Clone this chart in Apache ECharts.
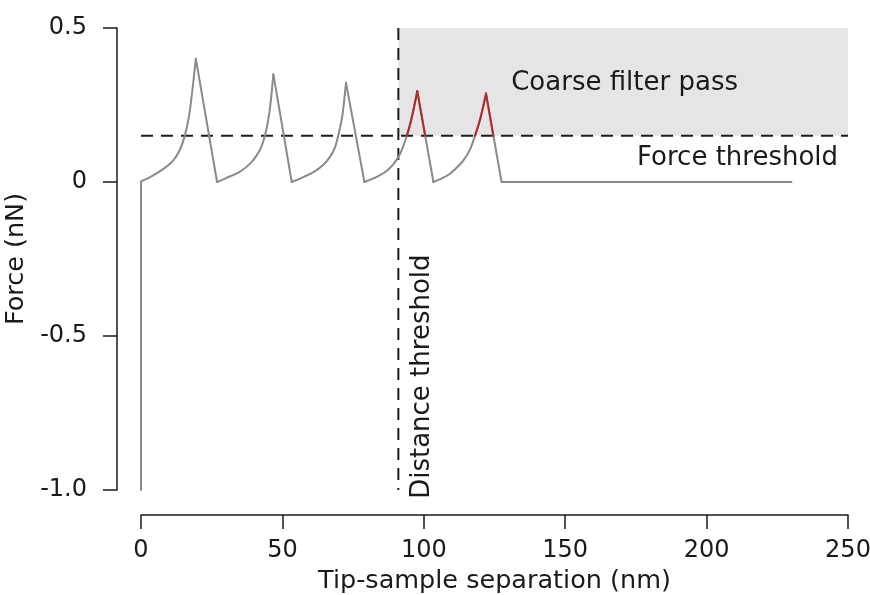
<!DOCTYPE html>
<html>
<head>
<meta charset="utf-8">
<script src="https://cdn.jsdelivr.net/npm/echarts@6/dist/echarts.min.js"></script>
<style>html,body{margin:0;padding:0;background:#fff}#c{width:870px;height:595px}</style>
</head>
<body>
<div id="c"></div>
<script>
// ---- data ----
var separationNm = [0, 0, 0.4, 2.9, 7.7, 11.2, 13.5, 15.3, 16.9, 18.0, 18.8, 19.4,
  26.9, 29.9, 34.9, 38.4, 40.8, 42.6, 44.2, 45.4, 46.2, 46.8,
  53.3, 56.2, 61, 64.4, 66.7, 68.5, 70, 71.2, 71.9, 72.5,
  79, 81.8, 86, 89.2, 91.8, 94, 95.5, 96.7, 97.7,
  103.4, 106, 109, 111.6, 114, 116.3, 118.1, 119.8, 121, 122,
  127.5, 230];
var forceNn = [-1.0, 0, 0.004, 0.014, 0.041, 0.068, 0.10, 0.144, 0.209, 0.285, 0.35, 0.40,
  0, 0.012, 0.033, 0.058, 0.085, 0.115, 0.165, 0.225, 0.29, 0.35,
  0, 0.011, 0.032, 0.055, 0.08, 0.11, 0.16, 0.215, 0.27, 0.322,
  0, 0.01, 0.03, 0.057, 0.095, 0.15, 0.2, 0.25, 0.295,
  0, 0.01, 0.025, 0.046, 0.07, 0.105, 0.15, 0.2, 0.245, 0.287,
  0, 0];
var passPeak1X = [94, 95.5, 96.7, 97.7, 100.5];
var passPeak1Y = [0.15, 0.2, 0.25, 0.295, 0.15];
var passPeak2X = [118.1, 119.8, 121, 122, 124.6];
var passPeak2Y = [0.15, 0.2, 0.245, 0.287, 0.15];
var forceThreshold = 0.15;
var distanceThreshold = 91;
var xTicks = [0, 50, 100, 150, 200, 250];
var yTickLabels = {'0.5': '0.5', '0': '0', '-0.5': '-0.5', '-1': '-1.0'};
var xRange = [0, 250];
var yRange = [-1.0, 0.5];
var annotationTexts = ['Coarse filter pass', 'Force threshold', 'Distance threshold'];

// split a polyline into runs: smooth rising runs (x and y increasing) and straight runs
function segments(xs, ys) {
  var segs = [], cur = null;
  for (var i = 0; i < xs.length - 1; i++) {
    var rise = xs[i + 1] > xs[i] && ys[i + 1] > ys[i];
    if (!cur || cur.rise !== rise) {
      cur = {rise: rise, pts: [[xs[i], ys[i]]]};
      segs.push(cur);
    }
    cur.pts.push([xs[i + 1], ys[i + 1]]);
  }
  return segs;
}

var FONT = 'DejaVu Sans';
var INK = '#1a1a1a';
var chart = echarts.init(document.getElementById('c'), null, {renderer: 'canvas'});
var dashStyle = {color: '#1e1e1e', width: 2, type: [12, 8]};

function curveSeries(xs, ys, color, z) {
  return segments(xs, ys).map(function (s) {
    return {
      type: 'line', data: s.pts, symbol: 'none', z: z,
      smooth: s.rise ? 0.3 : false,
      lineStyle: {color: color, width: 2, cap: 'round', join: 'round'}
    };
  });
}

var series = [
  {
    type: 'line', name: 'pass region', data: [], silent: true,
    markArea: {silent: true, itemStyle: {color: '#e5e5e5'},
      data: [[{coord: [distanceThreshold, forceThreshold]}, {coord: [xRange[1], yRange[1]]}]]}
  },
  {
    type: 'line', name: 'force threshold', data: [[xRange[0], forceThreshold], [xRange[1], forceThreshold]],
    symbol: 'none', lineStyle: dashStyle, z: 3
  },
  {
    type: 'line', name: 'distance threshold', data: [[distanceThreshold, yRange[1]], [distanceThreshold, yRange[0]]],
    symbol: 'none', lineStyle: dashStyle, z: 3
  }
].concat(curveSeries(separationNm, forceNn, '#8a8a8a', 4))
 .concat(curveSeries(passPeak1X, passPeak1Y, '#b02a2a', 5))
 .concat(curveSeries(passPeak2X, passPeak2Y, '#b02a2a', 5));

chart.setOption({
  animation: false,
  grid: {left: 141, right: 22, top: 28, bottom: 105, containLabel: false, outerBoundsMode: 'none'},
  xAxis: {
    type: 'value', min: xRange[0], max: xRange[1], interval: xTicks[1] - xTicks[0],
    offset: 25,
    name: 'Tip-sample separation (nm)', nameLocation: 'middle', nameGap: 52,
    nameTextStyle: {fontFamily: FONT, fontSize: 25.5, color: INK},
    axisLine: {show: true, onZero: false, lineStyle: {color: INK, width: 1.5}},
    axisTick: {show: true, length: 14, lineStyle: {color: INK, width: 1.5}},
    axisLabel: {fontFamily: FONT, fontSize: 24, color: INK, margin: 24},
    splitLine: {show: false}
  },
  yAxis: {
    type: 'value', min: yRange[0], max: yRange[1], interval: 0.5,
    offset: 24,
    name: 'Force (nN)', nameLocation: 'middle', nameGap: 79, nameRotate: 90,
    nameTextStyle: {fontFamily: FONT, fontSize: 25.5, color: INK},
    axisLine: {show: true, onZero: false, lineStyle: {color: INK, width: 1.5}},
    axisTick: {show: true, length: 14, lineStyle: {color: INK, width: 1.5}},
    axisLabel: {fontFamily: FONT, fontSize: 24, color: INK, margin: 30,
      formatter: function (v) { var k = String(Math.round(v * 10) / 10); return yTickLabels[k] !== undefined ? yTickLabels[k] : k; }},
    splitLine: {show: false}
  },
  series: series
});

// annotation texts placed at data coordinates through the chart's own scales
var p1 = chart.convertToPixel({gridIndex: 0}, [171, 0.32]);
var p2 = chart.convertToPixel({gridIndex: 0}, [246.5, 0.078]);
var p3 = chart.convertToPixel({gridIndex: 0}, [99.3, -0.632]);
var txt = function (t, p, align, rot) {
  return {type: 'text', x: p[0], y: p[1], rotation: rot || 0, z: 10,
    style: {text: t, fill: INK, font: '26px "' + FONT + '"', align: align, verticalAlign: 'middle'}};
};
chart.setOption({graphic: [
  txt(annotationTexts[0], p1, 'center'),
  txt(annotationTexts[1], p2, 'right'),
  txt(annotationTexts[2], p3, 'center', Math.PI / 2)
]});
</script>
</body>
</html>
